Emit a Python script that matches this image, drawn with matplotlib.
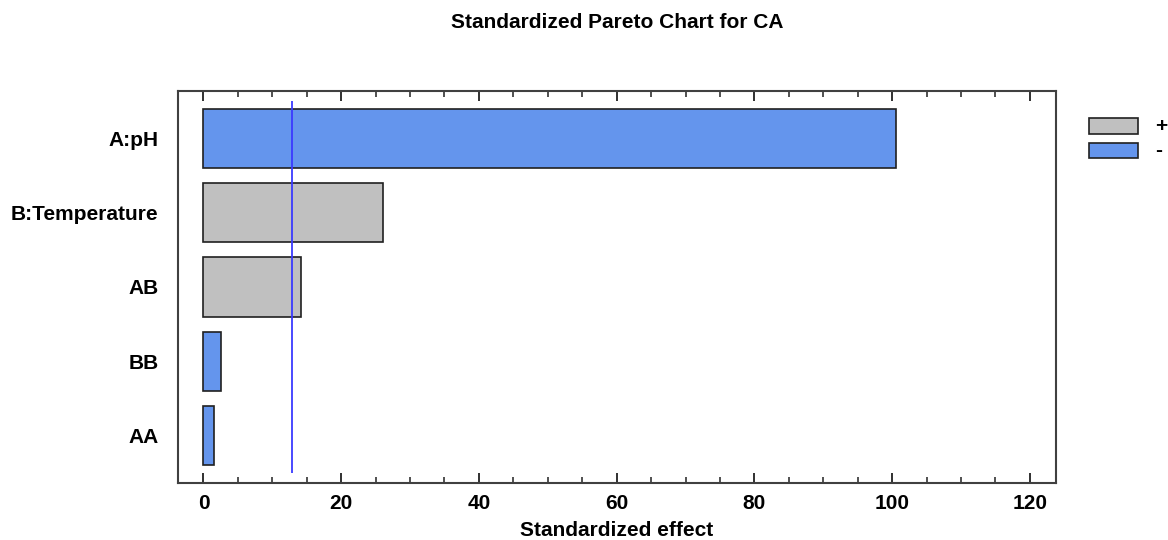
import matplotlib
matplotlib.use("Agg")
import matplotlib.pyplot as plt
from matplotlib.patches import Rectangle
from matplotlib.ticker import MultipleLocator

# effects, top to bottom
terms = ["A:pH", "B:Temperature", "AB", "BB", "AA"]
effects = [100.5, 26.1, 14.1, 2.5, 1.5]
signs = ["-", "+", "+", "-", "-"]
critical = 12.8

POS_COLOR = "#c0c0c0"
NEG_COLOR = "#6495ed"
FS = 15
W, H = 1168, 540

plt.rcParams["font.family"] = ["Liberation Sans", "DejaVu Sans"]
plt.rcParams["font.weight"] = "bold"

fig = plt.figure(figsize=(W / 100, H / 100), dpi=100)
ax = fig.add_axes([178 / W, 1 - 483 / H, (1056 - 178) / W, (483 - 91) / H])

ypos = list(range(len(terms)))
colors = [POS_COLOR if s == "+" else NEG_COLOR for s in signs]
ax.barh(ypos, effects, height=0.8, color=colors, edgecolor="#202020", linewidth=1.2)
ax.vlines(critical, -0.5, len(terms) - 0.5, color="#3a3aff", linewidth=1.3)

ax.set_xlim(-3.7, 123.8)
ax.set_ylim(len(terms) - 0.36, -0.64)
ax.set_yticks(ypos)
ax.set_yticklabels(terms, fontsize=FS, fontweight="bold")
ax.xaxis.set_major_locator(MultipleLocator(20))
ax.xaxis.set_minor_locator(MultipleLocator(5))
ax.tick_params(axis="x", which="major", direction="in", length=7, width=1.3,
               top=True, labelsize=FS, pad=8, color="#202020")
ax.tick_params(axis="x", which="minor", direction="in", length=4, width=1.1,
               top=True, color="#202020")
ax.tick_params(axis="y", length=0, pad=14)
for lbl in ax.get_xticklabels():
    lbl.set_fontweight("bold")
for sp in ax.spines.values():
    sp.set_color("#404040")
    sp.set_linewidth(1.5)

ax.set_xlabel("Standardized effect", fontsize=FS, fontweight="bold", labelpad=6)
fig.text(617 / W, 1 - 22 / H, "Standardized Pareto Chart for CA",
         ha="center", va="center", fontsize=FS, fontweight="bold")

# sign key on the right, drawn in figure pixels
for (y0, y1), color, label in [((118, 134), POS_COLOR, "+"), ((143, 158), NEG_COLOR, "-")]:
    fig.patches.append(Rectangle((1089 / W, 1 - y1 / H), 49 / W, (y1 - y0) / H,
                                 transform=fig.transFigure, facecolor=color,
                                 edgecolor="#202020", linewidth=1.2))
    fig.text(1155 / W, 1 - (y0 + y1) / 2 / H, label, ha="left", va="center",
             fontsize=FS, fontweight="bold")

fig.savefig("out.png", dpi=100)
